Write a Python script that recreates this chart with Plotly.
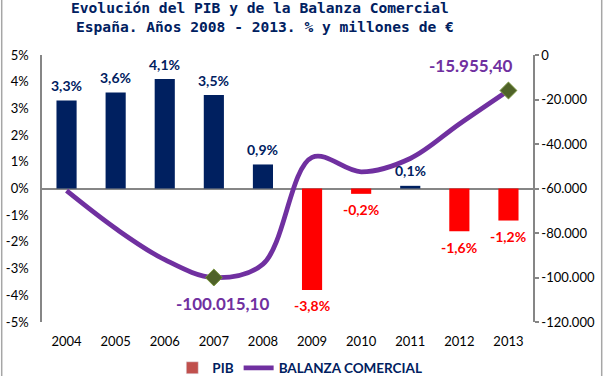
import plotly.graph_objects as go

years = ["2004", "2005", "2006", "2007", "2008", "2009", "2010", "2011", "2012", "2013"]
pib = [3.3, 3.6, 4.1, 3.5, 0.9, -3.8, -0.2, 0.1, -1.6, -1.2]
balanza = [-61000, -78000, -92000, -100015.10, -94000, -46000, -52500, -46500, -31000, -15955.40]
marked_idx = [3, 9]

left_ticks = [5, 4, 3, 2, 1, 0, -1, -2, -3, -4, -5]
left_ticktext = [f"{v}%" for v in left_ticks]
right_ticks = [0, -20000, -40000, -60000, -80000, -100000, -120000]
right_ticktext = [f"{v:,}".replace(",", ".") for v in right_ticks]

NAVY = "#002060"
RED = "#FF0000"
PURPLE = "#7030A0"
OLIVE = "#4F6228"
GRAY = "#868686"
FONT = "Lato"

def es_num(v):
    s = f"{v:,.2f}"
    return s.replace(",", "X").replace(".", ",").replace("X", ".")

fig = go.Figure()

bar_colors = [NAVY if v >= 0 else RED for v in pib]
fig.add_trace(go.Bar(x=years, y=pib, marker=dict(color=bar_colors, line=dict(width=0)),
                     width=0.41, showlegend=False, yaxis="y", hoverinfo="skip"))
fig.add_trace(go.Bar(x=[years[0]], y=[None], name="PIB", marker=dict(color="#C0504D"),
                     width=0.41, yaxis="y"))

fig.add_trace(go.Scatter(x=years, y=balanza, mode="lines", name="BALANZA COMERCIAL",
                         line=dict(color=PURPLE, width=4.8, shape="spline", smoothing=1.0),
                         yaxis="y2"))
fig.add_trace(go.Scatter(x=[years[i] for i in marked_idx], y=[balanza[i] for i in marked_idx],
                         mode="markers", showlegend=False, yaxis="y2",
                         marker=dict(symbol="diamond", size=13, color=OLIVE,
                                     line=dict(color="#77933C", width=1))))

annotations = []
for k, v in enumerate(pib):
    txt = f"{v:.1f}".replace(".", ",") + "%"
    annotations.append(dict(x=k, y=v, xref="x", yref="y", text=f"<b>{txt}</b>", showarrow=False,
                            yanchor="middle", yshift=15 if v >= 0 else -16,
                            font=dict(family=FONT, size=14, color=NAVY if v >= 0 else RED)))

i = marked_idx[0]
annotations.append(dict(x=i, y=balanza[i], xref="x", yref="y2", text=f"<b>{es_num(balanza[i])}</b>",
                        showarrow=False, yanchor="middle", xshift=9, yshift=-26,
                        font=dict(family=FONT, size=17, color=PURPLE)))
i = marked_idx[1]
annotations.append(dict(x=i, y=balanza[i], xref="x", yref="y2", text=f"<b>{es_num(balanza[i])}</b>",
                        showarrow=False, yanchor="middle", xshift=-37, yshift=25,
                        font=dict(family=FONT, size=17, color=PURPLE)))

annotations.append(dict(x=(260 - 42) / 491, y=(322 - 7) / 267, xref="paper", yref="paper",
                        text="<b>Evolución del PIB y de la Balanza Comercial</b>",
                        showarrow=False, xanchor="center", yanchor="middle",
                        font=dict(family="DejaVu Sans Mono", size=14.6, color=NAVY)))
annotations.append(dict(x=(265 - 42) / 491, y=(322 - 27) / 267, xref="paper", yref="paper",
                        text="<b>España. Años 2008 - 2013. % y millones de €</b>",
                        showarrow=False, xanchor="center", yanchor="middle",
                        font=dict(family="DejaVu Sans Mono", size=14.6, color=NAVY)))

shapes = [
    dict(type="line", xref="paper", yref="paper", x0=(1.7 - 42) / 491, x1=(1.7 - 42) / 491,
         y0=-1, y1=2, line=dict(color="#A6A6A6", width=1.5)),
    dict(type="line", xref="paper", yref="paper", x0=(601.7 - 42) / 491, x1=(601.7 - 42) / 491,
         y0=-1, y1=2, line=dict(color="#A6A6A6", width=1.5)),
]

fig.update_layout(
    width=604, height=376,
    margin=dict(l=42, r=71, t=55, b=54, autoexpand=False),
    paper_bgcolor="white", plot_bgcolor="white",
    font=dict(family=FONT, size=12, color="black"),
    showlegend=True,
    barmode="overlay",
    legend=dict(orientation="h", x=0.525, y=(322 - 368) / 267, xanchor="center", yanchor="middle",
                font=dict(family=FONT, size=13.5, color=NAVY, weight="bold"),
                itemwidth=30, tracegroupgap=0, bgcolor="rgba(0,0,0,0)"),
    xaxis=dict(type="category", categoryorder="array", categoryarray=years,
               range=[-0.5, len(years) - 0.5], showgrid=False, showline=False, ticks="",
               tickfont=dict(family=FONT, size=13, color="black"), ticklabelstandoff=10),
    yaxis=dict(range=[-5, 5], tickvals=left_ticks, ticktext=left_ticktext, showgrid=False,
               zeroline=True, zerolinecolor=GRAY, zerolinewidth=1.5,
               showline=True, linecolor=GRAY, linewidth=1.5, ticks="",
               tickfont=dict(family=FONT, size=13, color="black"), ticklabelstandoff=9),
    yaxis2=dict(range=[-120000, 0], overlaying="y", side="right", tickvals=right_ticks,
                ticktext=right_ticktext, showgrid=False, zeroline=False,
                showline=True, linecolor=GRAY, linewidth=1.5, ticks="outside", ticklen=4,
                tickcolor=GRAY, tickwidth=1.5,
                tickfont=dict(family=FONT, size=13, color="black")),
    annotations=annotations,
    shapes=shapes,
)

fig.write_html("out.html", config={"displayModeBar": False},
               post_script="document.body.style.margin='0';document.body.style.overflow='hidden';")
